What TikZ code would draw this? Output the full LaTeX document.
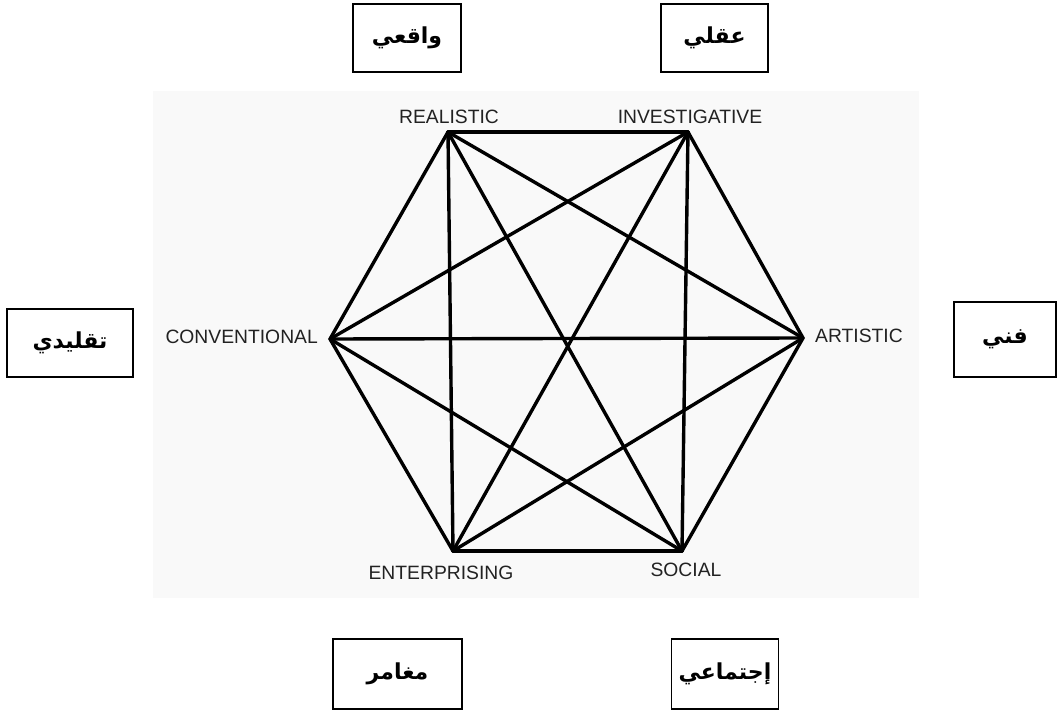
\documentclass[tikz,border=0pt]{standalone}
\usepackage{fontspec}
\setmainfont{Liberation Sans}
\newfontfamily\arabicfont[Script=Arabic]{DejaVu Sans}
\TeXXeTstate=1
\usepackage{tikz}
\usetikzlibrary{backgrounds}
\definecolor{panelgray}{HTML}{F9F9F9}
\definecolor{labelgray}{HTML}{222222}
\tikzset{
  typebox/.style={draw,line width=1.5pt,inner sep=0pt},
  typename/.style={inner sep=0pt,text=labelgray,font=\fontsize{19.3}{21}\selectfont},
  edge/.style={line width=3.4pt,line cap=round,line join=round}
}
\newcommand{\ar}[1]{\arabicfont\bfseries\fontsize{22}{24}\selectfont\beginR #1\endR}

\begin{document}
\begin{tikzpicture}[x=1pt,y=-1pt]

\useasboundingbox (0,0) rectangle (1058,711);

\fill[panelgray] (153,91) rectangle (919,598);

% corners of the hexagon
\coordinate (r) at (448,132);
\coordinate (i) at (688,132);
\coordinate (a) at (803,338);
\coordinate (s) at (682,551);
\coordinate (e) at (453,551);
\coordinate (c) at (330,339);

\node[typename] (rl) at (449,117) {REALISTIC};
\node[typename] (il) at (690,117) {INVESTIGATIVE};
\node[typename,anchor=west] (al) at (815,336) {ARTISTIC};
\node[typename] (sl) at (686,570) {SOCIAL};
\node[typename] (el) at (441,573) {ENTERPRISING};
\node[typename,anchor=east] (cl) at (318,337) {CONVENTIONAL};

% every type joined to every other
\foreach \p/\q in {r/i,i/a,a/s,s/e,e/c,c/r,r/s,i/e,c/a,r/e,i/s,r/a,i/c,c/s,e/a}
  \draw[edge] (\p) -- (\q);

\node[typebox,minimum width=108pt,minimum height=68pt] (rb) at (407,38) {\ar{واقعي}};
\node[typebox,minimum width=107pt,minimum height=68pt] (ib) at (714.5,38) {\ar{عقلي}};
\node[typebox,minimum width=102pt,minimum height=75pt] (ab) at (1005,339.5) {\ar{فني}};
\node[typebox,minimum width=107pt,minimum height=70pt] (sb) at (725,674) {\ar{إجتماعي}};
\node[typebox,minimum width=129pt,minimum height=70pt] (eb) at (397.5,674) {\ar{مغامر}};
\node[typebox,minimum width=126pt,minimum height=68pt] (cb) at (70,343) {\ar{تقليدي}};

\end{tikzpicture}
\end{document}
